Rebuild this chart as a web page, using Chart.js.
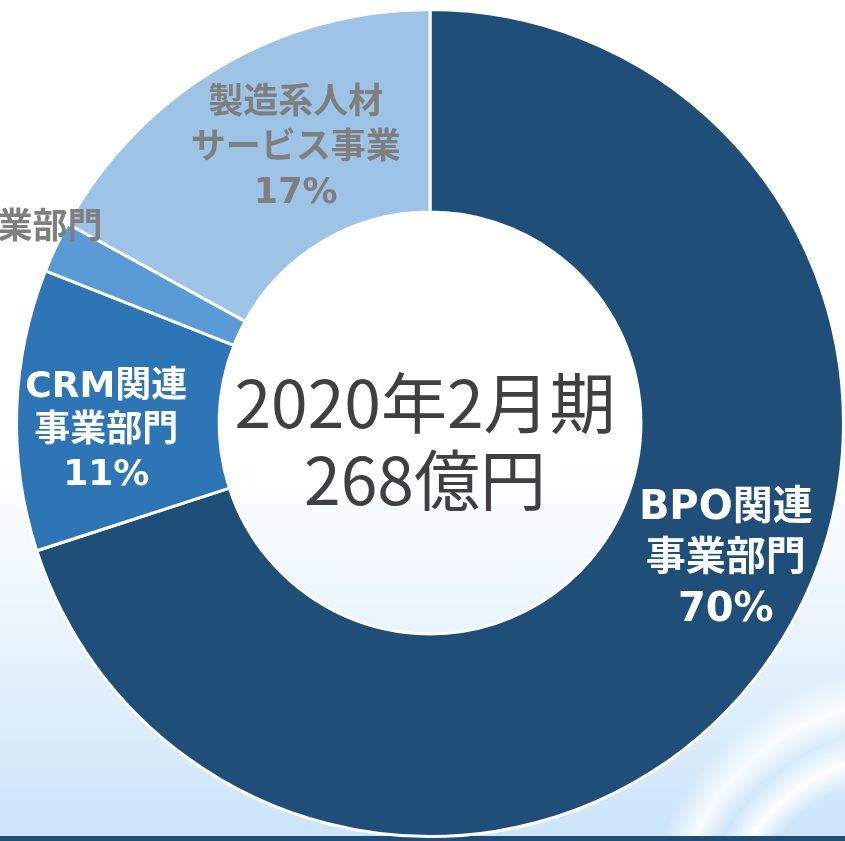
<!DOCTYPE html>
<html>
<head>
<meta charset="utf-8">
<script src="https://cdn.jsdelivr.net/npm/chart.js@4.4.1/dist/chart.umd.min.js"></script>
<style>
  html, body { margin: 0; padding: 0; width: 845px; height: 841px; overflow: hidden; }
  body {
    position: relative;
    background:
      radial-gradient(ellipse 300px 330px at 900px 960px, rgba(205,228,248,0) 55%, rgba(255,255,255,0.95) 62%, rgba(255,255,255,0) 70%, rgba(255,255,255,0.85) 78%, rgba(255,255,255,0) 88%),
      linear-gradient(to bottom, #ffffff 0%, #ffffff 55%, #f1f8fe 68%, #dfeefb 84%, #cbe4f9 100%);
  }
  #bar { position: absolute; left: 0; top: 836px; width: 845px; height: 5px; background: #1F4E79; z-index: 0; }
  #c { position: absolute; left: 0; top: 0; z-index: 1; }
</style>
</head>
<body>
<div id="bar"></div>
<canvas id="c" width="845" height="850"></canvas>
<script>
// ---- data ----
const categories = ['BPO関連事業部門', 'CRM関連事業部門', 'その他事業部門', '製造系人材サービス事業'];
const shares = [70, 11, 2, 17];
const sliceColors = ['#1F4E79', '#2E75B6', '#5B9BD5', '#9DC3E6'];
const labelTexts = ['BPO関連\n事業部門\n70%', 'CRM関連\n事業部門\n11%', '事業部門', '製造系人材\nサービス事業\n17%'];
const centerLines = ['2020年2月期', '268億円'];

// label styling / placement (relative to each arc)
const labelStyle = [
  { color: '#ffffff', size: 40, lh: 51, shiftDeg: -11.2, rf: 0.788, align: 'center' },
  { color: '#ffffff', size: 36, lh: 44, shiftDeg: -3.4,  rf: 0.783, align: 'center' },
  { color: '#7f7f7f', size: 35, lh: 44, shiftDeg: 5.4,   rf: 0.92,  align: 'right' },
  { color: '#7f7f7f', size: 35, lh: 45, shiftDeg: 4.5,   rf: 0.738, align: 'center' }
];
const LABEL_FONT = '"DejaVu Sans", "Noto Sans CJK JP", sans-serif';

const labelPlugin = {
  id: 'sliceLabels',
  afterDatasetsDraw(chart) {
    const ctx = chart.ctx;
    const meta = chart.getDatasetMeta(0);
    ctx.save();
    ctx.textBaseline = 'middle';
    meta.data.forEach((arc, i) => {
      const st = labelStyle[i];
      const p = arc.getProps(['x', 'y', 'startAngle', 'endAngle', 'outerRadius'], true);
      const mid = (p.startAngle + p.endAngle) / 2 + st.shiftDeg * Math.PI / 180;
      const r = p.outerRadius * st.rf;
      const cx = p.x + Math.cos(mid) * r;
      const cy = p.y + Math.sin(mid) * r;
      const lines = labelTexts[i].split('\n');
      ctx.fillStyle = st.color;
      ctx.font = 'bold ' + st.size + 'px ' + LABEL_FONT;
      ctx.textAlign = st.align;
      const y0 = cy - (lines.length - 1) * st.lh / 2;
      lines.forEach((ln, k) => ctx.fillText(ln, cx, y0 + k * st.lh));
    });
    // center text
    const a0 = meta.data[0];
    ctx.fillStyle = '#404040';
    ctx.font = '66px "Noto Sans CJK JP", sans-serif';
    ctx.textAlign = 'center';
    const lh = 77;
    const cx = a0.x - 5, cy = a0.y + 18;
    centerLines.forEach((ln, k) => ctx.fillText(ln, cx, cy - lh / 2 + k * lh));
    ctx.restore();
  }
};

new Chart(document.getElementById('c'), {
  type: 'doughnut',
  data: {
    labels: categories,
    datasets: [{
      data: shares,
      backgroundColor: sliceColors,
      borderColor: '#ffffff',
      borderWidth: 3
    }]
  },
  options: {
    responsive: false,
    animation: false,
    cutout: '51%',
    rotation: 0,
    layout: { padding: { left: 15, right: 0, top: 8, bottom: 12 } },
    plugins: { legend: { display: false }, tooltip: { enabled: false } },
    events: []
  },
  plugins: [labelPlugin]
});
</script>
</body>
</html>
